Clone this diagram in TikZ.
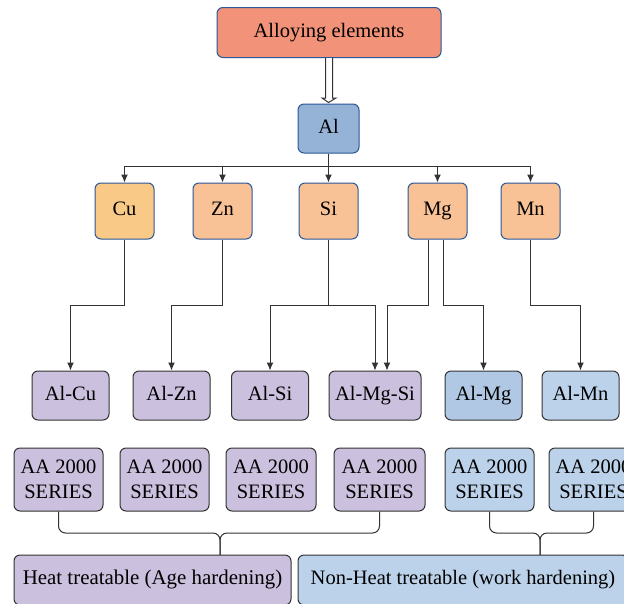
\documentclass[tikz,border=0pt]{standalone}
\usepackage{fontspec}
\setmainfont{Liberation Serif}
\usetikzlibrary{arrows.meta,calc}
\definecolor{bordblue}{HTML}{2B5797}
\definecolor{salmon}{HTML}{F19279}
\definecolor{alblue}{HTML}{95B3D7}
\definecolor{cuorange}{HTML}{F8C987}
\definecolor{elorange}{HTML}{F8C196}
\definecolor{lav}{HTML}{CBC0DD}
\definecolor{lblue}{HTML}{B0C8E4}
\definecolor{lblueb}{HTML}{BCD2EA}
\definecolor{linegray}{HTML}{333333}
\tikzset{
  box/.style={rounded corners=6pt, line width=1pt, inner sep=0pt, font=\fontsize{20.5}{25}\selectfont},
  oneline/.style={text height=14pt, text depth=4.5pt},
  topbox/.style={box, oneline, draw=bordblue, fill=salmon, minimum width=224pt, minimum height=50pt},
  albox/.style={box, oneline, draw=bordblue, fill=alblue, minimum width=61pt, minimum height=49pt},
  elbox/.style={box, oneline, draw=bordblue, fill=elorange, minimum width=59pt, minimum height=56pt},
  alloybox/.style={box, oneline, draw=linegray, fill=lav, minimum width=77pt, minimum height=49pt},
  seriesbox/.style={box, draw=linegray, fill=lav, minimum width=89pt, minimum height=63pt, align=center},
  groupbox/.style={box, oneline, draw=linegray, minimum height=50pt},
  conn/.style={draw=linegray, line width=1pt},
  arr/.style={conn, -{Latex[length=8pt,width=7pt]}},
  brace/.style={conn, rounded corners=7pt}
}
\begin{document}
\begin{tikzpicture}[x=1pt,y=-1pt]
\useasboundingbox (0,0) rectangle (624,603);
\fill[white] (0,0) rectangle (624,603);

\node[topbox] (top) at (329,32.5) {Alloying elements};
\node[albox] (al) at (328.5,128.5) {Al};

\node[elbox, fill=cuorange] (cu) at (124.5,211) {Cu};
\node[elbox] (zn) at (222.5,211) {Zn};
\node[elbox] (si) at (328.5,211) {Si};
\node[elbox] (mg) at (437.5,211) {Mg};
\node[elbox] (mn) at (530.5,211) {Mn};

\node[alloybox] (alcu) at (70.5,395.5) {Al-Cu};
\node[alloybox] (alzn) at (171.5,395.5) {Al-Zn};
\node[alloybox] (alsi) at (270,395.5) {Al-Si};
\node[alloybox, minimum width=92pt] (almgsi) at (375,395.5) {Al-Mg-Si};
\node[alloybox, fill=lblue] (almg) at (483.5,395.5) {Al-Mg};
\node[alloybox, fill=lblueb] (almn) at (580.5,395.5) {Al-Mn};

\node[seriesbox] (s1) at (58.5,479.5) {AA 2000\\SERIES};
\node[seriesbox] (s2) at (164.5,479.5) {AA 2000\\SERIES};
\node[seriesbox, minimum width=90pt] (s3) at (271,479.5) {AA 2000\\SERIES};
\node[seriesbox, minimum width=91pt] (s4) at (379.5,479.5) {AA 2000\\SERIES};
\node[seriesbox, fill=lblueb] (s5) at (489.5,479.5) {AA 2000\\SERIES};
\node[seriesbox, fill=lblueb] (s6) at (593.5,479.5) {AA 2000\\SERIES};

\node[groupbox, fill=lav, minimum width=277pt, font=\fontsize{20.9}{25}\selectfont] (heat) at (152.5,580) {Heat treatable (Age hardening)};
\node[groupbox, fill=lblueb, minimum width=330pt] (nonheat) at (463,580) {Non-Heat treatable (work hardening)};

% double open arrow
\draw[conn, fill=white, line join=miter]
  ($(top.south)+(-3.5,0)$) -- ($(top.south)+(-3.5,40)$) -- ($(top.south)+(-7,40)$)
  -- ($(al.north)+(0,-1)$) -- ($(top.south)+(7,40)$) -- ($(top.south)+(3.5,40)$)
  -- ($(top.south)+(3.5,0)$);

% bus
\coordinate (bus) at (0,166);
\draw[conn] (al.south) -- (al.south |- bus);
\draw[conn] (cu.north |- bus) -- (mn.north |- bus);
\foreach \n in {cu,zn,si,mg,mn}{
  \draw[arr] (\n.north |- bus) -- (\n.north);
}

% lower connectors
\coordinate (mid) at (0,305);
\coordinate (mgsiin) at ($(almgsi.north)+(12,0)$);
\coordinate (mgl) at ($(mg.south)+(-9,0)$);
\coordinate (mgr) at ($(mg.south)+(6,0)$);
\draw[arr] (cu.south) -- (cu.south |- mid) -| (alcu.north);
\draw[arr] (zn.south) -- (zn.south |- mid) -| (alzn.north);
\draw[conn] (si.south) -- (si.south |- mid);
\draw[arr] (si.south |- mid) -| (alsi.north);
\draw[arr] (si.south |- mid) -| (almgsi.north);
\draw[arr] (mgl) -- (mgl |- mid) -| (mgsiin);
\draw[arr] (mgr) -- (mgr |- mid) -| (almg.north);
\draw[arr] (mn.south) -- (mn.south |- mid) -| (almn.north);

% braces
\coordinate (by) at (0,533);
\coordinate (hb) at (220,555);
\draw[brace] (s1.south) -- (s1.south |- by) -- (hb |- by) -- (hb);
\draw[brace] (s4.south) -- (s4.south |- by) -- (hb |- by) -- (hb);
\coordinate (nhb) at (540,555);
\draw[brace] (s5.south) -- (s5.south |- by) -- (nhb |- by) -- (nhb);
\draw[brace] (s6.south) -- (s6.south |- by) -- (nhb |- by) -- (nhb);
\end{tikzpicture}
\end{document}
